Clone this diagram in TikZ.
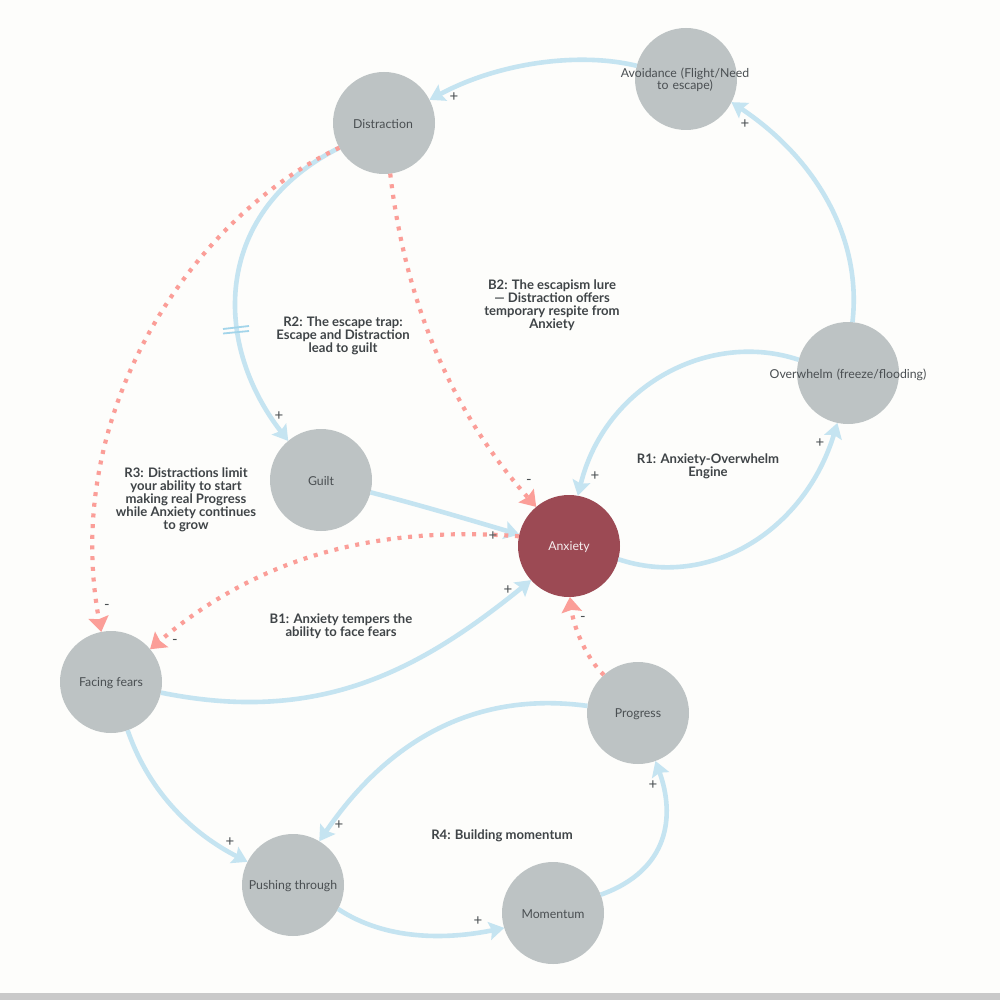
\documentclass[tikz,border=0pt]{standalone}
\usepackage{fontspec}
\setmainfont{Lato}
\usetikzlibrary{arrows.meta}
\definecolor{bgc}{HTML}{FDFDFB}
\definecolor{barc}{HTML}{C9C9C9}
\definecolor{circ}{HTML}{BDC3C4}
\definecolor{anx}{HTML}{9C4A54}
\definecolor{posl}{HTML}{C5E4F1}
\definecolor{hashc}{HTML}{A3D5EA}
\definecolor{negl}{HTML}{FB9E98}
\definecolor{txt}{HTML}{4A4F52}
\definecolor{lab}{HTML}{3F4447}
\tikzset{
 x=1pt,y=-1pt,
 vert/.style={circle,fill=circ,minimum size=102pt,inner sep=0pt,outer sep=0pt,text=txt,font=\fontsize{12.3}{12.3}\selectfont,align=center},
 hot/.style={vert,fill=anx,text=white!90!anx},
 poslink/.style={draw=posl,line width=4.6pt,-{Stealth[length=15pt,width=18pt,inset=2.5pt]}},
 neglink/.style={draw=negl,line width=4.2pt,dash pattern=on 4pt off 6.7pt,-{Stealth[length=15pt,width=20pt,inset=2pt,color=negl]}},
 lbl/.style={font=\bfseries\fontsize{13.1}{13}\selectfont,text=lab,align=center},
 sgn/.style={font=\fontsize{15}{15}\selectfont,text=txt,inner sep=0pt},
}
\begin{document}
\begin{tikzpicture}
\useasboundingbox (0,0) rectangle (1000,1000);
\fill[bgc] (0,0) rectangle (1000,1000);
\fill[barc] (0,993) rectangle (1000,1000);
\path node[vert] (avoid) at (686,79) {}
 node[vert] (dist) at (384,123) {}
 node[vert] (over) at (848,373) {}
 node[vert] (guilt) at (321,480) {}
 node[hot] (anxc) at (569,546) {}
 node[vert] (face) at (111,682) {}
 node[vert] (prog) at (638,713) {}
 node[vert] (push) at (293,885) {}
 node[vert] (mom) at (553,913) {};
\draw[poslink] (over.85) .. controls (862,240) and (818,160) .. (avoid.-27);
\draw[poslink] (avoid.165) .. controls (580,52) and (500,62) .. (dist.27);
\draw[poslink] (over.165) .. controls (710,330) and (605,385) .. (anxc.80);
\draw[poslink] (anxc.-15) .. controls (710,590) and (805,530) .. (over.-102);
\draw[poslink] (dist.209) .. controls (215,210) and (210,340) .. (guilt.130);
\draw[poslink] (guilt.-14) .. controls (420,505) and (470,520) .. (anxc.167);
\draw[poslink] (face.-12) .. controls (320,725) and (420,670) .. (anxc.222);
\draw[poslink] (face.-71) .. controls (150,795) and (195,835) .. (push.153);
\draw[poslink] (prog.172) .. controls (470,690) and (385,745) .. (push.59);
\draw[poslink] (push.-28) .. controls (385,940) and (445,940) .. (mom.197);
\draw[poslink] (mom.21) .. controls (670,870) and (675,815) .. (prog.-70);
\draw[neglink] (dist.-83) .. controls (405,300) and (450,410) .. (anxc.130);
\draw[neglink] (dist.209) .. controls (195,215) and (60,410) .. (face.101);
\draw[neglink] (anxc.169) .. controls (370,525) and (255,560) .. (face.40);
\draw[neglink] (prog.132) .. controls (588,660) and (574,630) .. (anxc.-89);
\coordinate (h1a) at (223,329);
\coordinate (h1b) at (249,326);
\coordinate (h2a) at (223,333.5);
\coordinate (h2b) at (249,331);
\draw[draw=hashc,line width=1.8pt] (h1a) -- (h1b) (h2a) -- (h2b);
\node[vert,fill=none,text width=132pt] (avoidt) at (685,80) {Avoidance (Flight/Need\\to escape)};
\node[vert,fill=none] (distt) at (383,124) {Distraction};
\node[vert,fill=none,text width=160pt] (overt) at (848,375) {Overwhelm (freeze/flooding)};
\node[vert,fill=none] (guiltt) at (321,481) {Guilt};
\node[hot,fill=none] (anxt) at (569,547) {Anxiety};
\node[vert,fill=none] (facet) at (111,683) {Facing fears};
\node[vert,fill=none] (progt) at (638,714) {Progress};
\node[vert,fill=none] (pusht) at (293,886) {Pushing through};
\node[vert,fill=none] (momt) at (553,914) {Momentum};
\node[lbl] (l1) at (552,305.5) {B2: The escapism lure\\— Distraction offers\\temporary respite from\\Anxiety};
\node[lbl] (l2) at (343,335.5) {R2: The escape trap:\\Escape and Distraction\\lead to guilt};
\node[lbl] (l3) at (708,466.5) {R1: Anxiety-Overwhelm\\Engine};
\node[lbl] (l4) at (186,499.5) {R3: Distractions limit\\your ability to start\\making real Progress\\while Anxiety continues\\to grow};
\node[lbl] (l5) at (341,626.5) {B1: Anxiety tempers the\\ability to face fears};
\node[lbl] (l6) at (502,836) {R4: Building momentum};
\node[sgn] (s1) at (454,97) {+};
\node[sgn] (s2) at (745,124) {+};
\node[sgn] (s3) at (595,476) {+};
\node[sgn] (s4) at (820,443) {+};
\node[sgn] (s5) at (279,416) {+};
\node[sgn] (s6) at (493,536) {+};
\node[sgn] (s7) at (508,590) {+};
\node[sgn] (s8) at (230,842) {+};
\node[sgn] (s9) at (339,825) {+};
\node[sgn] (s10) at (478,921) {+};
\node[sgn] (s11) at (653,785) {+};
\node[sgn] (m1) at (529,482) {-};
\node[sgn] (m2) at (107,607) {-};
\node[sgn] (m3) at (175,642) {-};
\node[sgn] (m4) at (583,619) {-};
\end{tikzpicture}
\end{document}
